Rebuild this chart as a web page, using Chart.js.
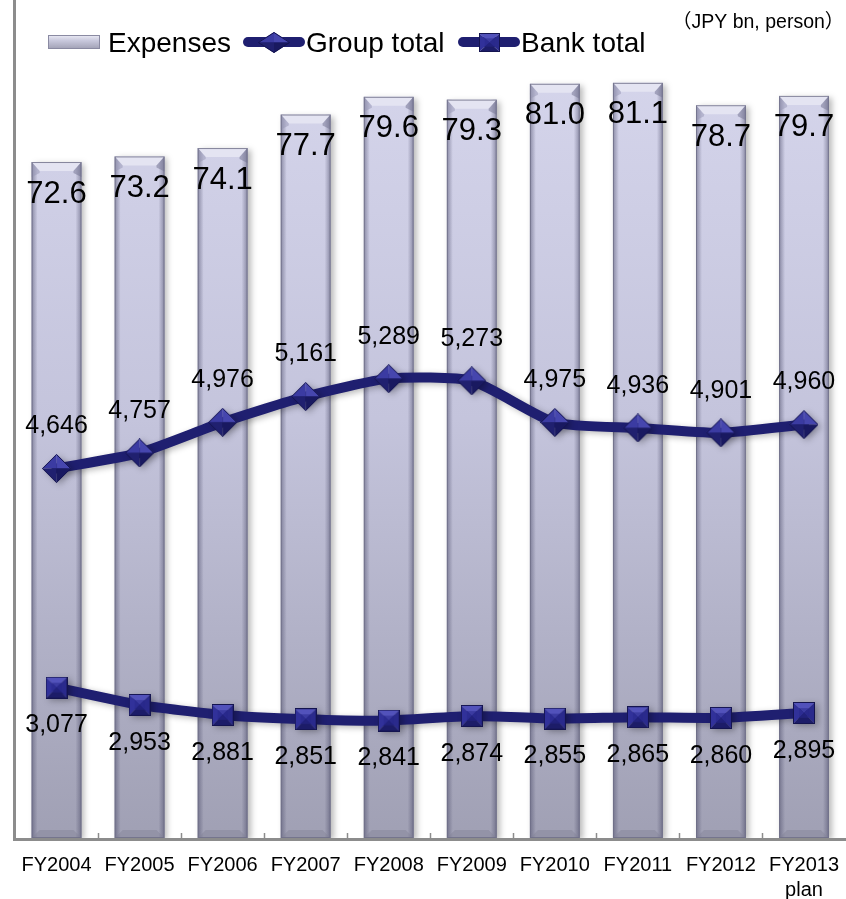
<!DOCTYPE html>
<html><head><meta charset="utf-8">
<script src="https://cdn.jsdelivr.net/npm/chart.js@4/dist/chart.umd.min.js"></script>
<style>html,body{margin:0;padding:0;background:#fff;}#wrap{position:relative;width:846px;height:899px;}</style>
</head><body><div id="wrap"><canvas id="c" width="846" height="899"></canvas></div>
<script>
const categories = [['FY2004'],['FY2005'],['FY2006'],['FY2007'],['FY2008'],['FY2009'],['FY2010'],['FY2011'],['FY2012'],['FY2013','plan']];
const expenses = [72.6,73.2,74.1,77.7,79.6,79.3,81.0,81.1,78.7,79.7];
const groupTotal = [4646,4757,4976,5161,5289,5273,4975,4936,4901,4960];
const bankTotal = [3077,2953,2881,2851,2841,2874,2855,2865,2860,2895];
const seriesNames = ['Expenses','Group total','Bank total'];
const unitNote = '（JPY bn, person）';

const FONT = "'Liberation Sans', Arial, sans-serif";
const LINE = '#1f1f70';

function tri(ctx, pts, color){ctx.beginPath();ctx.moveTo(pts[0][0],pts[0][1]);for(let i=1;i<pts.length;i++)ctx.lineTo(pts[i][0],pts[i][1]);ctx.closePath();ctx.fillStyle=color;ctx.fill();}
function makeDiamond(w,h){
  const c=document.createElement('canvas');c.width=w;c.height=h;const x=c.getContext('2d');
  const cx=w/2,cy=h/2,T=[cx,0],R=[w,cy],B=[cx,h],L=[0,cy],C=[cx,cy];
  tri(x,[T,L,C],'#3b3ba2');tri(x,[T,R,C],'#4646ae');tri(x,[B,L,C],'#20206f');tri(x,[B,R,C],'#191960');
  x.beginPath();x.moveTo(T[0],T[1]+0.5);x.lineTo(R[0]-0.5,R[1]);x.lineTo(B[0],B[1]-0.5);x.lineTo(L[0]+0.5,L[1]);x.closePath();x.strokeStyle='#141450';x.lineWidth=1;x.stroke();
  return c;
}
function makeSquare(w,h){
  const c=document.createElement('canvas');c.width=w;c.height=h;const x=c.getContext('2d');
  const TL=[0,0],TR=[w,0],BR=[w,h],BL=[0,h],C=[w/2,h/2];
  tri(x,[TL,TR,C],'#5252bb');tri(x,[TL,BL,C],'#31319a');tri(x,[TR,BR,C],'#2a2a8c');tri(x,[BL,BR,C],'#1c1c68');
  x.fillStyle='rgba(40,40,140,0.55)';x.fillRect(w*0.28,h*0.28,w*0.44,h*0.44);
  x.strokeStyle='#141450';x.lineWidth=1;x.strokeRect(0.5,0.5,w-1,h-1);
  return c;
}
const diamondImg = makeDiamond(29,29);
const squareImg = makeSquare(22,22);

let barGrad=null;
function barFill(ctx){
  const ch=ctx.chart, a=ch.chartArea;
  if(!a) return '#c4c4da';
  if(!barGrad){barGrad=ch.ctx.createLinearGradient(0,a.top,0,a.bottom);
    barGrad.addColorStop(0,'#d8d8ee');barGrad.addColorStop(0.5,'#c4c4dc');barGrad.addColorStop(1,'#a0a0b4');}
  return barGrad;
}

const decor = {
  id:'decor',
  beforeDatasetDraw(chart,args){
    const c=chart.ctx;c.save();
    c.shadowColor='rgba(0,0,0,0.28)';c.shadowBlur=6;c.shadowOffsetX=3;c.shadowOffsetY=2;
  },
  afterDatasetDraw(chart,args){
    const c=chart.ctx;c.restore();
    if(args.index!==0) return;
    const meta=chart.getDatasetMeta(0);
    c.save();
    meta.data.forEach(el=>{
      const l=el.x-el.width/2, r=el.x+el.width/2, t=el.y, b=el.base, cap=9, ins=8;
      let g=c.createLinearGradient(l,0,l+6,0);g.addColorStop(0,'rgba(70,70,100,0.5)');g.addColorStop(1,'rgba(70,70,100,0)');
      c.fillStyle=g;c.fillRect(l,t,6,b-t);
      g=c.createLinearGradient(r-6,0,r,0);g.addColorStop(0,'rgba(70,70,100,0)');g.addColorStop(1,'rgba(70,70,100,0.5)');
      c.fillStyle=g;c.fillRect(r-6,t,6,b-t);
      tri(c,[[l,t],[r,t],[r-ins,t+cap],[l+ins,t+cap]],'#e4e4f2');
      tri(c,[[l,t],[l+ins,t+cap],[l+ins,t+cap+2],[l,t+cap+6]],'rgba(150,150,180,0.5)');
      tri(c,[[r,t],[r-ins,t+cap],[r-ins,t+cap+2],[r,t+cap+6]],'rgba(120,120,150,0.55)');
      tri(c,[[l,b],[r,b],[r-ins,b-8],[l+ins,b-8]],'rgba(130,130,150,0.45)');
      c.strokeStyle='rgba(110,110,135,0.8)';c.lineWidth=1;
      c.strokeRect(l+0.5,t+0.5,el.width-1,b-t-1);
    });
    c.restore();
  },
  afterDraw(chart){
    const c=chart.ctx, a=chart.chartArea, xs=chart.scales.x;
    c.save();
    c.strokeStyle='#8c8c8c';c.lineWidth=3;
    c.beginPath();c.moveTo(14.5,0);c.lineTo(14.5,a.bottom+3);c.stroke();
    c.beginPath();c.moveTo(13,a.bottom+1.5);c.lineTo(846,a.bottom+1.5);c.stroke();
    c.lineWidth=1.5;
    for(let i=1;i<categories.length;i++){
      const xx=Math.round((xs.getPixelForTick(i-1)+xs.getPixelForTick(i))/2)+0.5;
      c.beginPath();c.moveTo(xx,a.bottom-5);c.lineTo(xx,a.bottom);c.stroke();
    }
    c.fillStyle='#000';c.textAlign='center';c.textBaseline='middle';
    c.font='31px '+FONT;
    chart.getDatasetMeta(0).data.forEach((el,i)=>{c.fillText(expenses[i].toFixed(1),el.x,el.y+32);});
    c.font='25px '+FONT;
    chart.getDatasetMeta(1).data.forEach((el,i)=>{c.fillText(groupTotal[i].toLocaleString('en-US'),el.x,el.y-42);});
    chart.getDatasetMeta(2).data.forEach((el,i)=>{c.fillText(bankTotal[i].toLocaleString('en-US'),el.x,el.y+38);});
    let g=c.createLinearGradient(0,35,0,49);g.addColorStop(0,'#ececf6');g.addColorStop(0.4,'#c8c8dc');g.addColorStop(1,'#a0a0b4');
    c.fillStyle=g;c.fillRect(48,35,52,14);c.strokeStyle='#8a8aa2';c.lineWidth=1;c.strokeRect(48.5,35.5,51,13);
    c.lineCap='round';c.strokeStyle=LINE;c.lineWidth=10;
    c.beginPath();c.moveTo(248,42);c.lineTo(300,42);c.stroke();
    c.drawImage(makeDiamond(32,21),258,32,32,21);
    c.beginPath();c.moveTo(463,42);c.lineTo(515,42);c.stroke();
    c.drawImage(makeSquare(21,19),479,33);
    c.fillStyle='#000';c.textAlign='left';c.textBaseline='alphabetic';c.font='28px '+FONT;
    c.fillText(seriesNames[0],108,52);c.fillText(seriesNames[1],306,52);c.fillText(seriesNames[2],521,52);
    c.font="19.5px 'Liberation Sans', 'Noto Sans CJK JP', sans-serif";
    c.fillText(unitNote,672,28);
    c.restore();
  }
};

new Chart(document.getElementById('c'),{
  data:{
    labels:categories,
    datasets:[
      {type:'bar',label:seriesNames[0],data:expenses,yAxisID:'y',backgroundColor:barFill,borderWidth:0,barPercentage:0.6,categoryPercentage:1,order:2},
      {type:'line',label:seriesNames[1],data:groupTotal,yAxisID:'y2',borderColor:LINE,borderWidth:10,tension:0.2,fill:false,pointStyle:diamondImg,pointRadius:14,order:1,borderCapStyle:'round',clip:false},
      {type:'line',label:seriesNames[2],data:bankTotal,yAxisID:'y2',borderColor:LINE,borderWidth:10,tension:0.2,fill:false,pointStyle:squareImg,pointRadius:14,order:0,borderCapStyle:'round',clip:false}
    ]
  },
  options:{
    responsive:false,animation:false,devicePixelRatio:1,
    layout:{autoPadding:false,padding:{left:15,right:0,top:0,bottom:0}},
    plugins:{legend:{display:false},tooltip:{enabled:false}},
    scales:{
      x:{grid:{display:false},border:{display:false},
        ticks:{color:'#000',font:{size:20,family:FONT,lineHeight:1.25},padding:7,maxRotation:0,autoSkip:false},
        afterFit(s){s.height=61;}},
      y:{display:false,min:0,max:90},
      y2:{display:false,min:2000,max:8000}
    }
  },
  plugins:[decor]
});
</script></body></html>
